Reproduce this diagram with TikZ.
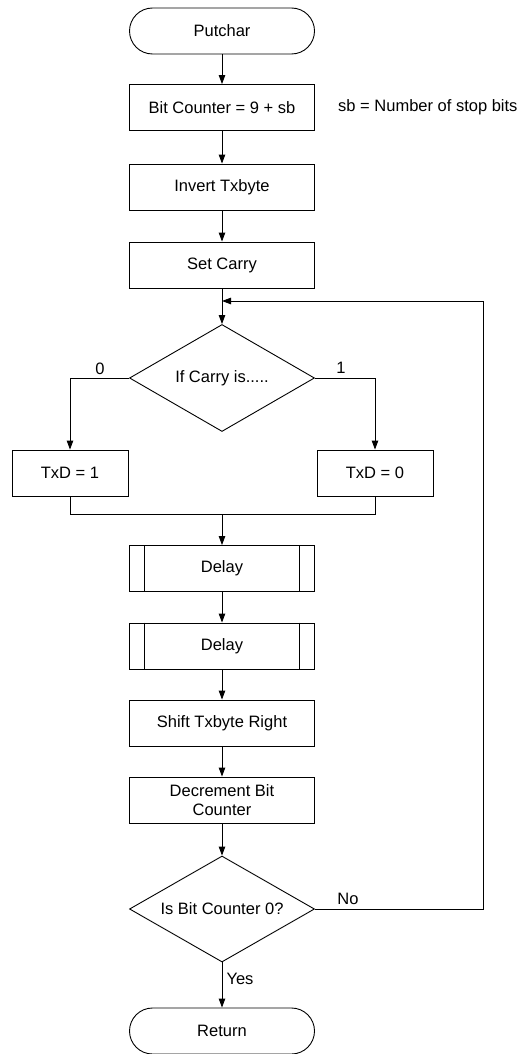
\documentclass[tikz,border=0pt]{standalone}
\usepackage{fontspec}
\setmainfont{Liberation Sans}
\usetikzlibrary{shapes.geometric,arrows.meta}
\tikzset{
  base/.style={draw,line width=0.9pt,inner sep=0pt,align=center,font=\fontsize{16.5}{19}\selectfont},
  procbox/.style={base,rectangle,minimum width=185pt,minimum height=46pt},
  smallbox/.style={base,rectangle,minimum width=116pt,minimum height=46pt},
  termbox/.style={base,rectangle,rounded corners=23pt,minimum width=185pt,minimum height=46pt},
  decbox/.style={base,diamond,shape aspect=1.73,minimum width=185pt,minimum height=107pt},
  lbl/.style={font=\fontsize{16.5}{19}\selectfont,inner sep=0pt},
  conn/.style={line width=0.9pt,-{Triangle[length=9pt,width=6.5pt]}},
  line/.style={line width=0.9pt},
}
\begin{document}
\begin{tikzpicture}[x=1pt,y=-1pt]
\useasboundingbox (0,0) rectangle (531,1054);
\node[termbox] (start) at (222,31) {Putchar};
\node[procbox] (bc) at (222,107.5) {Bit Counter = 9 + sb};
\node[lbl,anchor=west] (note) at (338,107.5) {sb = Number of stop bits};
\node[procbox] (inv) at (222,187) {Invert Txbyte};
\node[procbox] (carry) at (222,265) {Set Carry};
\coordinate (join) at (222,301);
\node[decbox] (ifc) at (222,378) {If Carry is.....};
\node[smallbox] (t1) at (70,473) {TxD = 1};
\node[smallbox] (t0) at (375,473) {TxD = 0};
\coordinate (merge) at (222,514);
\node[procbox] (d1) at (222,568.5) {Delay};
\node[procbox] (d2) at (222,646) {Delay};
\node[procbox] (shift) at (222,723) {Shift Txbyte Right};
\node[procbox] (dec) at (222,800) {Decrement Bit\\Counter};
\node[decbox,minimum height=106pt] (isz) at (222,909) {Is Bit Counter 0?};
\node[termbox] (ret) at (222,1031) {Return};
\coordinate (loopb) at (483,909);
\coordinate (loopt) at (483,301);

\foreach \n in {d1,d2}{
  \draw[line] ([xshift=15.5pt]\n.north west) -- ([xshift=15.5pt]\n.south west);
  \draw[line] ([xshift=-15.5pt]\n.north east) -- ([xshift=-15.5pt]\n.south east);
}

\draw[conn] (start) -- (bc);
\draw[conn] (bc) -- (inv);
\draw[conn] (inv) -- (carry);
\draw[conn] (carry) -- (ifc);
\draw[conn] (ifc.west) -| (t1.north);
\draw[conn] (ifc.east) -| (t0.north);
\draw[line] (t1.south) |- (merge);
\draw[line] (t0.south) |- (merge);
\draw[conn] (merge) -- (d1);
\draw[conn] (d1) -- (d2);
\draw[conn] (d2) -- (shift);
\draw[conn] (shift) -- (dec);
\draw[conn] (dec) -- (isz);
\draw[conn] (isz) -- (ret);
\draw[conn] (isz.east) -- (loopb) -- (loopt) -- (join);

\node[lbl] (l0) at (100,369) {0};
\node[lbl] (l1) at (341,368) {1};
\node[lbl] (lno) at (348,899) {No};
\node[lbl] (lyes) at (240,979) {Yes};
\end{tikzpicture}
\end{document}
